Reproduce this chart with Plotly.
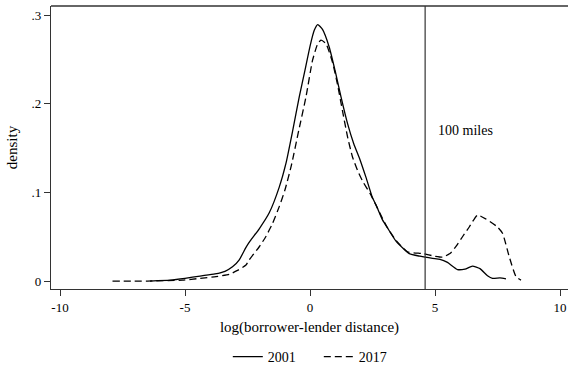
import plotly.graph_objects as go

x2001 = [-6.4, -5.6, -5.0, -4.4, -3.8, -3.4, -3.1, -2.83, -2.56, -2.4, -2.03, -1.63, -1.23,
         -0.96, -0.69, -0.43, -0.2, 0.0, 0.17, 0.31, 0.5, 0.77, 1.0, 1.24, 1.5, 1.75, 2.0,
         2.24, 2.5, 2.64, 2.9, 3.1, 3.44, 3.97, 4.4, 4.9, 5.2, 5.5, 5.9, 6.2, 6.5, 6.8, 7.1,
         7.3, 7.6, 7.84]
y2001 = [0.0, 0.001, 0.003, 0.0056, 0.008, 0.011, 0.016, 0.024, 0.038, 0.045, 0.059, 0.077, 0.106,
         0.133, 0.170, 0.208, 0.238, 0.265, 0.283, 0.2895, 0.284, 0.264, 0.238, 0.208, 0.178, 0.155, 0.137,
         0.117, 0.094, 0.086, 0.069, 0.060, 0.045, 0.031, 0.028, 0.0256, 0.0245, 0.021, 0.013, 0.0135, 0.0169, 0.014, 0.006,
         0.003, 0.0035, 0.0025]

x2017 = [-7.9, -6.5, -5.1, -4.4, -3.76, -3.23, -2.9, -2.56, -2.43, -2.03, -1.77, -1.5, -1.23, -1.0,
         -0.75, -0.45, -0.16, 0.1, 0.31, 0.44, 0.64, 0.9, 1.1, 1.3, 1.5, 1.7, 1.9, 2.1, 2.44, 2.7,
         3.1, 3.44, 3.9, 4.5, 5.0, 5.3, 5.6, 5.84, 6.1, 6.37, 6.7, 7.04, 7.5, 7.7, 7.97, 8.24, 8.44]
y2017 = [0.0, 0.0, 0.001, 0.003, 0.005, 0.0075, 0.012, 0.018, 0.024, 0.0387, 0.050, 0.065, 0.084, 0.103,
         0.130, 0.170, 0.208, 0.249, 0.268, 0.272, 0.268, 0.247, 0.222, 0.192, 0.163, 0.140, 0.125, 0.113, 0.097, 0.082,
         0.060, 0.046, 0.033, 0.031, 0.028, 0.027, 0.031, 0.039, 0.050, 0.061, 0.0744, 0.070, 0.061, 0.054, 0.0274, 0.005, 0.001]

xticks = [-10, -5, 0, 5, 10]
xtick_labels = ["-10", "-5", "0", "5", "10"]
yticks = [0, 0.1, 0.2, 0.3]
ytick_labels = ["0", ".1", ".2", ".3"]
cutoff = 4.605  # log(100 miles)

font = "Liberation Serif"
fig = go.Figure()
fig.add_trace(go.Scatter(x=x2001, y=y2001, mode="lines", name="2001",
                         line=dict(color="black", width=1.3, shape="spline", smoothing=0.5)))
fig.add_trace(go.Scatter(x=x2017, y=y2017, mode="lines", name="2017",
                         line=dict(color="black", width=1.3, dash="7px,4px", shape="spline", smoothing=0.5)))
fig.add_shape(type="line", x0=cutoff, x1=cutoff, y0=0, y1=1, yref="paper",
              line=dict(color="#333333", width=1.2))
fig.add_annotation(x=5.04, y=0.170, text="100 miles", showarrow=False, xanchor="left",
                   font=dict(family=font, size=14, color="black"))

fig.update_layout(
    width=568, height=373,
    margin=dict(l=51, r=0, t=6, b=84, autoexpand=False),
    paper_bgcolor="white", plot_bgcolor="white",
    font=dict(family=font, size=13, color="black"),
    showlegend=True,
    legend=dict(orientation="h", x=0.518, xanchor="center", xref="paper",
                y=16 / 373, yanchor="middle", yref="container",
                entrywidth=46, entrywidthmode="pixels",
                font=dict(family=font, size=14)),
    xaxis=dict(range=[-10.36, 10.32], tickvals=xticks, ticktext=xtick_labels,
               showgrid=False, zeroline=False, showline=True, linecolor="#333333", linewidth=1.3,
               ticks="outside", ticklen=6, tickcolor="#333333",
               title=dict(text="log(borrower-lender distance)", font=dict(family=font, size=15), standoff=7)),
    yaxis=dict(range=[-0.009, 0.3105], tickvals=yticks, ticktext=ytick_labels,
               showgrid=False, zeroline=False, showline=True, linecolor="#333333", linewidth=1.3,
               ticks="outside", ticklen=6, tickcolor="#333333",
               title=dict(text="density", font=dict(family=font, size=15), standoff=10)),
)
fig.add_shape(type="line", xref="paper", yref="paper", x0=0, x1=1, y0=1, y1=1,
              line=dict(color="#333333", width=1.3))
fig.write_html("out.html")
